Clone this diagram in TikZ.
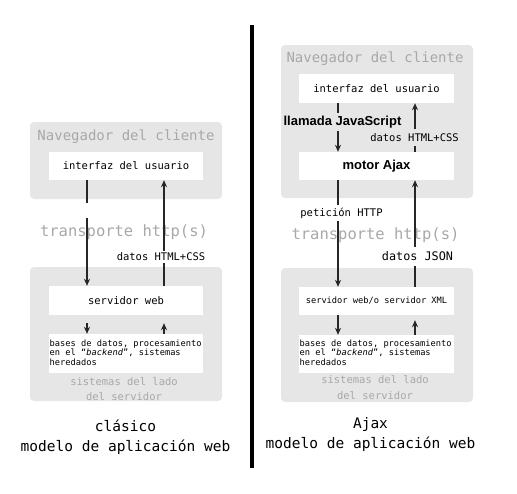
\documentclass[tikz,border=0pt]{standalone}
\usepackage{fontspec}
\setmainfont{DejaVu Sans Mono}[ItalicFont={DejaVu Sans Mono Oblique},BoldFont={DejaVu Sans Mono Bold}]
\newfontfamily\arialf{Liberation Sans}
\usetikzlibrary{arrows.meta}
\newcommand{\fsz}[2]{\fontsize{#1}{#2}\selectfont}
\definecolor{boxgray}{HTML}{E6E6E6}
\definecolor{txtgray}{HTML}{A8A8A8}
\begin{document}
\begin{tikzpicture}[x=1pt,y=-1pt,
  panel/.style={fill=boxgray, rounded corners=4pt, draw=none, inner sep=0pt},
  whitebox/.style={fill=white, draw=none, inner sep=0pt},
  ghost/.style={text=txtgray, inner sep=0pt},
  lbl/.style={inner sep=0pt, font=\fsz{10.5}{12}},
  bold/.style={inner sep=0pt, font=\arialf\bfseries\fsz{13}{14}},
  conn/.style={line width=1.2pt, draw=black!85},
  arr/.style={conn, -{Stealth[length=7pt,width=6pt]}},
  dbtext/.style={anchor=north west, align=left, inner sep=0pt, font=\fsz{8.7}{9.6}},
  side/.style={ghost, align=center, font=\fsz{10.5}{15.5}},
  caption/.style={inner sep=0pt, align=center, font=\fsz{14.5}{20}}]
\useasboundingbox (0,0) rectangle (517,493);

% column x positions
\coordinate (aL) at (87,0);
\coordinate (bL) at (164,0);
\coordinate (aR) at (338,0);
\coordinate (bR) at (415,0);

% divider
\coordinate (divtop) at (251.5,25);
\coordinate (divbot) at (251.5,468);
\draw[line width=4pt] (divtop) -- (divbot);

% ---------------- left: classic ----------------
\node[panel, minimum width=192pt, minimum height=77pt] (cb1) at (126,160.5) {};
\node[ghost, font=\fsz{14}{16}] (t1) at (126,137) {Navegador del cliente};
\node[whitebox, minimum width=154pt, minimum height=28pt, font=\fsz{10.5}{12}] (ui1) at (126,166) {interfaz del usuario};

\node[ghost, font=\fsz{15.5}{18}] (tr1) at (124,232) {transporte http(s)};

\node[panel, minimum width=192pt, minimum height=134pt] (sb1) at (126,334) {};
\node[whitebox, minimum width=154pt, minimum height=29pt, font=\fsz{10.5}{12}] (ws1) at (126,300.5) {servidor web};
\node[whitebox, minimum width=154pt, minimum height=39pt] (db1) at (126,353.5) {};
\node[dbtext] (db1t) at (49.5,339.5) {bases de datos, procesamiento\\en el “\textit{backend}”, sistemas\\heredados};
\node[side] (sd1) at (124,389) {sistemas del lado\\del servidor};

\coordinate (g1) at (87,203);
\coordinate (g2) at (87,218);
\draw[conn] (ui1.south -| g1) -- (g1);
\draw[arr] (g2) -- (ws1.north -| g2);
\draw[arr] (ws1.north -| bL) -- (ui1.south -| bL);
\node[lbl, fill=white, inner sep=1.5pt] (d1) at (161,257) {datos HTML+CSS};

\draw[arr, shorten <=8pt] (ws1.south -| aL) -- (db1.north -| aL);
\draw[arr, shorten >=8pt] (db1.north -| bL) -- (ws1.south -| bL);

\node[caption] (c1) at (125.5,437) {clásico\\modelo de aplicación web};

% ---------------- right: Ajax ----------------
\node[panel, minimum width=192pt, minimum height=153pt] (cb2) at (377,121.5) {};
\node[ghost, font=\fsz{14}{16}] (t2) at (375,59) {Navegador del cliente};
\node[whitebox, minimum width=155pt, minimum height=29pt, font=\fsz{10.5}{12}] (ui2) at (376.5,88.5) {interfaz del usuario};
\node[whitebox, minimum width=155pt, minimum height=28pt, font=\arialf\bfseries\fsz{13}{14}] (motor) at (376.5,166) {motor Ajax};

\node[ghost, font=\fsz{15.5}{18}] (tr2) at (375.5,235) {transporte http(s)};

\node[panel, minimum width=192pt, minimum height=134pt] (sb2) at (377,335) {};
\node[whitebox, minimum width=155pt, minimum height=28pt, font=\fsz{8.7}{10}] (ws2) at (376.5,301) {servidor web/o servidor XML};
\node[whitebox, minimum width=155pt, minimum height=38pt] (db2) at (376.5,354) {};
\node[dbtext] (db2t) at (299.5,339.5) {bases de datos, procesamiento\\en el “\textit{backend}”, sistemas\\heredados};
\node[side] (sd2) at (375,387.5) {sistemas del lado\\del servidor};

\draw[arr] (ui2.south -| aR) -- (motor.north -| aR);
\node[bold, fill=boxgray, inner ysep=3pt, inner xsep=0pt] (js) at (342.5,122) {llamada JavaScript};
\draw[arr] (motor.north -| bR) -- (ui2.south -| bR);
\node[lbl, fill=boxgray, inner xsep=0pt, inner ysep=4pt] (d2) at (414.5,137.5) {datos HTML+CSS};

\draw[arr] (motor.south -| aR) -- (ws2.north -| aR);
\node[lbl, fill=white, inner xsep=0pt, inner ysep=3pt] (pet) at (341.5,213) {petición HTTP};
\draw[arr] (ws2.north -| bR) -- (motor.south -| bR);
\node[lbl, fill=white, inner xsep=0pt, inner ysep=5pt, font=\fsz{11.8}{13}] (json) at (417.5,256.5) {datos JSON};

\draw[arr] (ws2.south -| aR) -- (db2.north -| aR);
\draw[arr, shorten >=5pt] (db2.north -| bR) -- (ws2.south -| bR);

\node[caption] (c2) at (370.5,434.5) {Ajax\\modelo de aplicación web};
\end{tikzpicture}
\end{document}
